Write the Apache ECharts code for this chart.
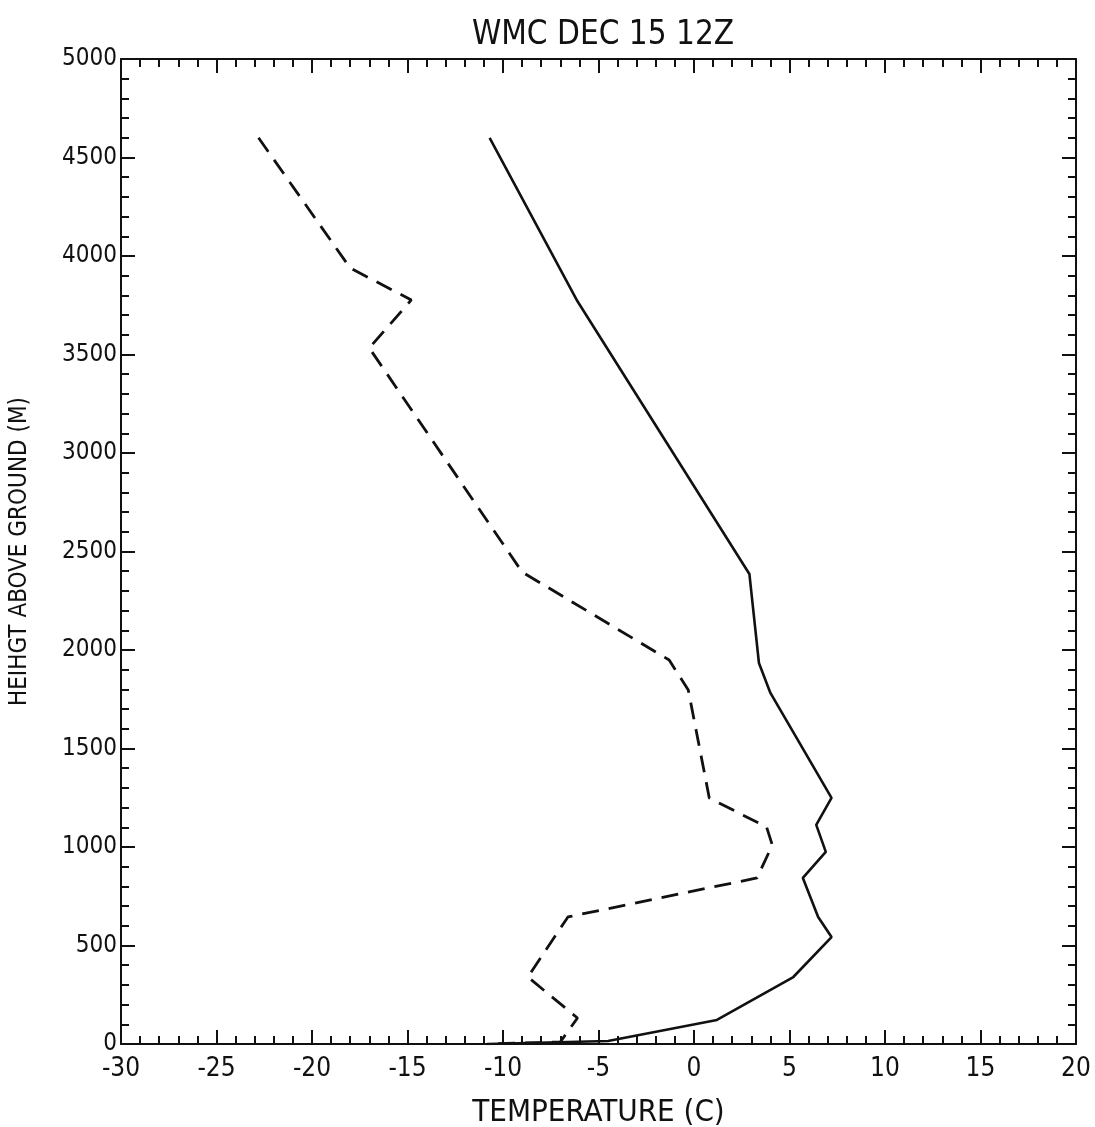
<!DOCTYPE html>
<html>
<head>
<meta charset="utf-8">
<script src="https://cdn.jsdelivr.net/npm/echarts@6/dist/echarts.min.js"></script>
<style>
html,body{margin:0;padding:0;background:#fff;}
#chart{width:1095px;height:1127px;}
</style>
</head>
<body>
<div id="chart"></div>
<script>
var titleText = "WMC DEC 15 12Z";
var xName = "TEMPERATURE (C)";
var yName = "HEIHGT ABOVE GROUND (M)";

// Temperature profile (solid line)
var tempHeights = [4600, 3770, 2386, 1934, 1782, 1249, 1112, 975, 843, 645, 543, 340, 122, 15, 0];
var tempValues  = [-10.7, -6.1, 2.9, 3.4, 4.0, 7.2, 6.4, 6.9, 5.7, 6.5, 7.2, 5.2, 1.2, -4.5, -10.8];

// Dewpoint profile (dashed line)
var dewHeights = [4600, 3939, 3777, 3533, 2396, 1949, 1797, 1249, 1101, 1010, 843, 645, 340, 132, 10, 0];
var dewValues  = [-22.8, -18.0, -14.8, -17.0, -9.0, -1.3, -0.3, 0.8, 3.8, 4.1, 3.3, -6.6, -8.7, -6.1, -7.0, -10.8];

var xMin = -30, xMax = 20, xStep = 5;
var yMin = 0, yMax = 5000, yStep = 500;

function pairs(xs, ys) {
  var out = [];
  for (var i = 0; i < xs.length; i++) out.push([xs[i], ys[i]]);
  return out;
}

var FONT = "'DejaVu Sans Condensed',sans-serif";
var INK = '#111';

var chart = echarts.init(document.getElementById('chart'));

function plain(v) { return String(v); }

function xAx(pos, labels) {
  return {
    type: 'value', position: pos, min: xMin, max: xMax, interval: xStep,
    name: labels ? xName : '', nameLocation: 'middle', nameGap: 53,
    nameTextStyle: {fontFamily: FONT, fontSize: 31, color: INK},
    axisLine: {show: true, onZero: false, lineStyle: {color: INK, width: 2}},
    axisTick: {show: true, inside: true, length: 14, lineStyle: {color: INK, width: 2}},
    minorTick: {show: true, splitNumber: 5, length: 8, lineStyle: {color: INK, width: 2}},
    axisLabel: {show: labels, margin: 12, fontFamily: FONT, fontSize: 26, color: INK, formatter: plain},
    splitLine: {show: false}, minorSplitLine: {show: false}
  };
}
function yAx(pos, labels) {
  return {
    type: 'value', position: pos, min: yMin, max: yMax, interval: yStep,
    name: labels ? yName : '', nameLocation: 'middle', nameGap: 89, nameRotate: 90,
    nameTextStyle: {fontFamily: FONT, fontSize: 24, color: INK},
    axisLine: {show: true, onZero: false, lineStyle: {color: INK, width: 2}},
    axisTick: {show: true, inside: true, length: 14, lineStyle: {color: INK, width: 2}},
    minorTick: {show: true, splitNumber: 5, length: 8, lineStyle: {color: INK, width: 2}},
    axisLabel: {show: labels, margin: 4, fontFamily: FONT, fontSize: 24, color: INK, formatter: plain},
    splitLine: {show: false}, minorSplitLine: {show: false}
  };
}

chart.setOption({
  backgroundColor: '#fff',
  animation: false,
  title: {
    text: titleText, left: 598, top: 14, textAlign: 'center',
    textStyle: {fontFamily: FONT, fontSize: 33, fontWeight: 'normal', color: INK}
  },
  grid: {left: 121, right: 19, top: 59, bottom: 83, containLabel: false, outerBoundsMode: 'none'},
  xAxis: [xAx('bottom', true), xAx('top', false)],
  yAxis: [yAx('left', true), yAx('right', false)],
  series: [
    {
      type: 'line', xAxisIndex: 0, yAxisIndex: 0,
      data: pairs(tempValues, tempHeights),
      showSymbol: false, smooth: false,
      lineStyle: {color: INK, width: 2.6}
    },
    {
      type: 'line', xAxisIndex: 0, yAxisIndex: 0,
      data: pairs(dewValues, dewHeights),
      showSymbol: false, smooth: false,
      lineStyle: {color: INK, width: 2.8, type: [17, 10]}
    }
  ]
});
</script>
</body>
</html>
